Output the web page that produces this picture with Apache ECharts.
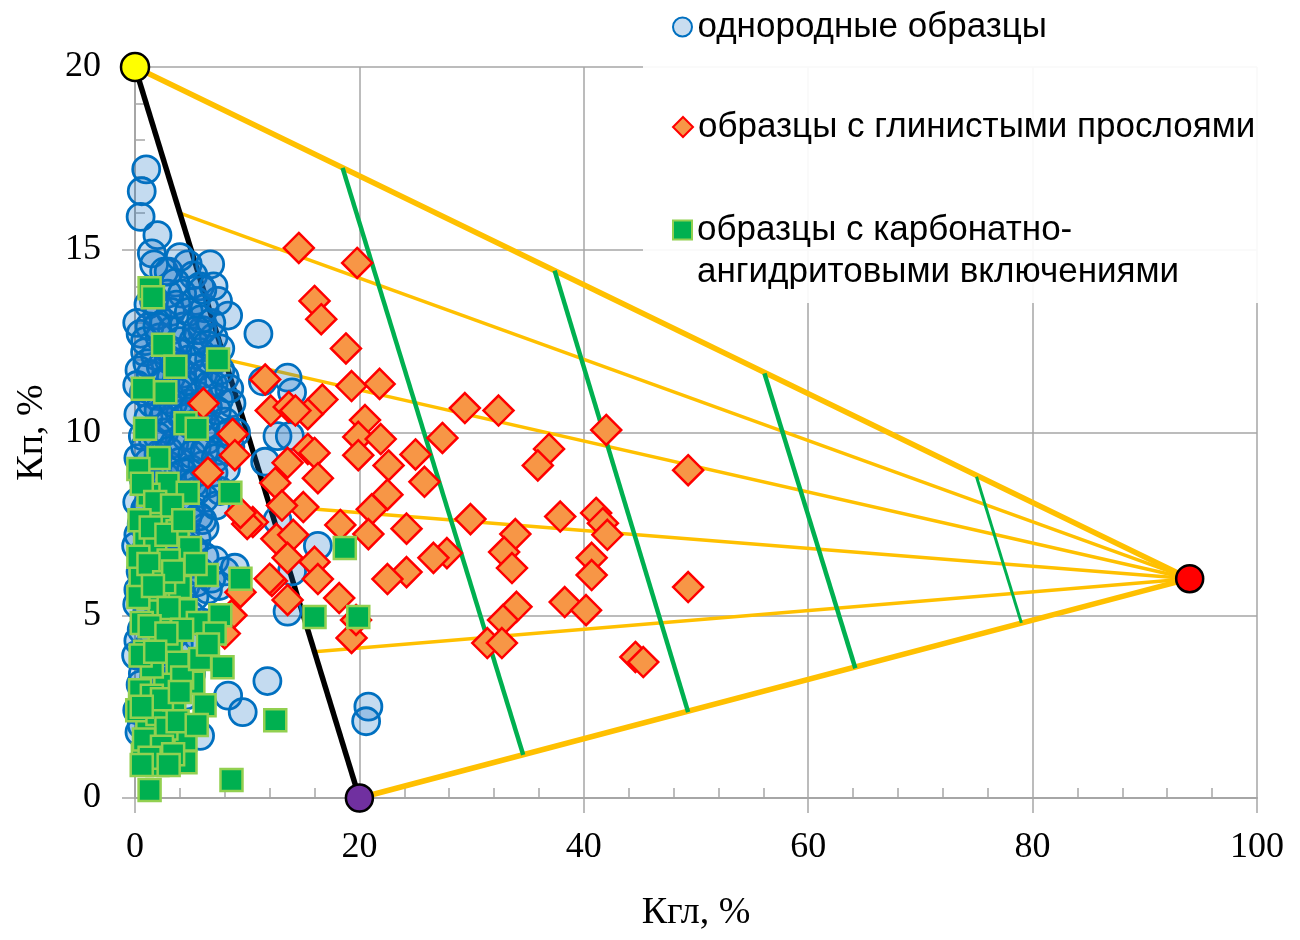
<!DOCTYPE html>
<html><head><meta charset="utf-8">
<script src="https://cdn.jsdelivr.net/npm/echarts@6/dist/echarts.min.js"></script>
<style>html,body{margin:0;padding:0;background:#fff}#chart{width:1300px;height:940px}</style>
</head><body><div id="chart"></div>
<script>
// ---------- data ----------
const xTickValues = [0, 20, 40, 60, 80, 100];
const yTickValues = [0, 5, 10, 15, 20];
const xAxisTitle = 'Кгл, %';
const yAxisTitle = 'Кп, %';
const seriesNames = ['однородные образцы', 'образцы с глинистыми прослоями', 'образцы с карбонатно-ангидритовыми включениями'];

// однородные образцы (Кгл, Кп)
const homogeneous = [
[1.0,17.2],[0.6,16.6],[0.5,15.9],[2.0,15.4],[1.5,14.9],[1.7,14.6],[2.6,14.4],[4.7,14.6],[6.7,14.6],[5.2,14.3],[5.8,14.0],[3.6,14.1],[2.9,13.8],[4.2,13.8],[5.4,13.6],[6.2,13.4],[8.3,13.2],[11.0,12.7],[1.2,13.5],[2.0,13.2],[3.2,13.3],
[0.5,12.7],[1.3,12.9],[2.2,12.6],[3.3,12.8],[4.3,12.9],[5.2,12.5],[6.0,12.8],[7.0,12.6],[0.9,12.2],[1.8,12.1],[2.8,12.3],[3.8,12.2],[4.8,12.0],[5.8,12.2],[6.6,12.0],[7.6,12.3],
[0.4,11.7],[1.4,11.6],[2.3,11.8],[3.2,11.5],[4.2,11.6],[5.1,11.4],[6.1,11.6],[7.0,11.3],[8.0,11.5],[11.4,11.4],[13.6,11.5],[14.0,11.1],[0.8,11.1],[1.9,11.0],[2.9,10.9],[3.9,11.1],[4.8,10.8],[5.7,11.0],[6.5,10.7],[7.5,10.9],[8.6,10.8],
[0.3,10.5],[1.2,10.4],[2.1,10.6],[3.1,10.3],[4.0,10.5],[5.0,10.2],[6.0,10.4],[7.0,10.1],[8.0,10.3],[9.0,10.0],[0.7,9.9],[1.6,9.8],[2.6,10.0],[3.5,9.7],[4.5,9.9],[5.5,9.6],[6.5,9.8],[7.5,9.5],[8.5,9.6],[12.7,9.9],[13.8,9.9],[11.6,9.2],
[0.3,9.3],[1.2,9.2],[2.1,9.4],[3.0,9.1],[4.0,9.2],[5.0,9.0],[6.0,9.1],[7.0,8.9],[0.8,8.7],[1.7,8.6],[2.7,8.8],[3.6,8.5],[4.6,8.6],[5.5,8.4],[6.5,8.6],[7.6,8.4],
[0.2,8.1],[1.1,8.0],[2.0,7.9],[3.1,8.1],[4.0,7.8],[5.0,7.9],[6.0,7.6],[0.6,7.5],[1.5,7.3],[2.5,7.5],[3.5,7.2],[4.5,7.3],[5.5,7.1],[6.2,7.4],[12.7,7.6],[16.3,6.9],[14.0,6.2],[13.6,5.1],
[0.1,6.9],[1.0,6.8],[2.0,6.6],[3.0,6.7],[4.0,6.5],[5.0,6.4],[6.2,6.6],[7.1,6.5],[8.0,6.2],[8.9,6.3],[0.5,6.2],[1.5,6.0],[2.5,5.9],[3.5,6.0],[4.5,5.8],[5.5,5.9],[6.5,5.7],[7.5,5.8],
[0.2,5.3],[1.1,5.2],[2.1,5.0],[3.0,5.1],[4.0,4.9],[5.0,5.0],[6.0,4.8],[0.6,4.6],[1.6,4.5],[2.6,4.4],[3.6,4.5],[4.6,4.3],[5.6,4.4],
[0.1,3.9],[1.0,3.8],[2.0,3.6],[3.0,3.7],[4.0,3.5],[5.0,3.4],[0.5,3.1],[1.5,3.0],[2.5,2.9],[3.5,3.0],[4.5,2.8],[11.8,3.2],[8.3,2.8],[9.6,2.35],[0.2,2.4],[1.2,2.3],[2.2,2.2],[3.2,2.4],[5.8,1.7],[0.4,1.8],[1.4,1.6],[3.0,1.5],[20.8,2.5],[20.6,2.1],
[0.2,13.0],[1.7,13.6],[2.6,13.0],[3.7,13.5],[4.8,13.3],[5.9,13.1],[6.8,13.0],[7.4,13.6],[0.9,12.5],[2.0,12.9],[3.0,12.0],[4.0,12.5],[5.5,12.8],[6.4,12.4],[7.2,12.0],[1.1,11.9],[2.6,11.4],[3.6,11.9],[4.5,11.3],[5.6,11.8],[6.6,11.3],[7.6,11.7],[8.4,11.2],[0.2,11.3],
[1.5,10.8],[2.5,10.4],[3.4,10.8],[4.4,10.4],[5.3,10.7],[6.3,10.2],[7.3,10.6],[8.4,10.0],[0.9,9.6],[2.0,9.9],[3.0,9.5],[4.1,9.6],[5.1,9.4],[6.2,9.5],[7.2,9.3],[8.1,9.0],[0.6,8.9],[1.5,9.0],[2.4,8.5],[3.3,8.8],[4.3,8.9],[5.2,8.6],[6.2,8.2],[7.2,8.0],
[0.9,7.9],[1.8,7.7],[2.8,7.8],[3.8,7.6],[4.7,7.7],[5.7,7.7],[0.3,7.2],[1.2,7.1],[2.2,7.0],[3.2,6.9],[4.2,7.0],[5.2,6.8],[0.8,6.5],[1.8,6.3],[2.8,6.3],[3.8,6.2],[4.8,6.1],[5.8,6.2],[6.8,6.0],[0.3,5.7],[1.3,5.6],[2.3,5.5],[3.3,5.4],[4.3,5.4],[5.3,5.5],
[0.9,4.9],[1.9,4.8],[2.9,4.7],[3.9,4.2],[0.3,4.3],[1.3,4.2],[2.3,4.0],[0.7,3.4],[1.7,3.3],[2.7,3.3],[3.7,3.3],[0.9,2.6],[1.9,2.6],[2.7,2.5],[0.6,2.0],[1.9,1.9],[6.0,13.9],[7.0,14.0],[3.0,14.4],[4.0,14.8]
];

// образцы с глинистыми прослоями
const clayLayers = [
[14.6,15.05],[19.8,14.64],[16.0,13.6],[16.6,13.1],[18.8,12.3],[11.6,11.45],[19.3,11.27],[21.8,11.33],[12.1,10.6],[13.7,10.7],[16.7,10.9],[15.4,10.5],[14.3,10.6],[29.4,10.67],[32.4,10.6],[20.5,10.34],[19.9,9.88],[21.9,9.82],[15.4,9.55],[16.0,9.44],[19.9,9.38],[27.4,9.85],[42.0,10.07],[36.9,9.55],[35.9,9.1],[49.3,8.97],[13.6,9.17],[22.6,9.1],[25.0,9.4],[16.3,8.75],[12.5,8.62],[25.8,8.65],[22.5,8.3],[21.1,7.9],[15.0,7.96],[13.1,8.0],[10.5,7.55],[29.9,7.63],[37.9,7.7],[41.1,7.8],[41.7,7.52],[42.1,7.2],[33.9,7.22],[24.2,7.37],[20.8,7.22],[18.3,7.47],[12.6,7.09],[14.1,7.2],[32.9,6.73],[33.6,6.29],[40.7,6.57],[40.7,6.1],[27.8,6.7],[26.6,6.57],[24.2,6.18],[22.5,5.99],[13.6,6.57],[16.0,6.46],[16.3,5.99],[12.2,5.94],[18.2,5.47],[13.6,5.42],[38.3,5.36],[40.2,5.14],[49.3,5.77],[34.0,5.23],[32.8,4.87],[31.4,4.24],[32.7,4.24],[19.3,4.38],[19.7,4.87],[44.6,3.86],[45.3,3.72],[6.1,10.8],[8.7,9.96],[8.9,9.38],[6.5,8.9],[10.0,7.5],[9.4,7.8],[12.0,6.0],[9.4,5.63],[8.6,5.0],[8.0,4.5]
];

// образцы с карбонатно-ангидритовыми включениями
const carbonate = [
[1.3,13.95],[1.6,13.7],[2.5,12.4],[3.6,11.8],[7.4,12.0],[0.7,11.2],[2.7,11.1],[0.9,10.1],[4.5,10.25],[5.5,10.1],[2.1,9.3],[2.9,8.6],[4.7,8.35],[8.5,8.35],[1.2,8.3],[2.2,7.7],[3.8,7.3],[0.9,7.06],[4.9,6.84],[2.0,6.24],[6.4,6.1],[9.4,6.0],[18.7,6.84],[16.0,4.95],[19.9,4.95],[3.7,5.6],[4.0,5.77],[1.2,5.47],[2.2,5.1],[4.5,5.14],[5.6,4.79],[7.6,5.0],[7.1,4.5],[0.6,4.79],[2.2,4.38],[5.1,3.72],[7.8,3.58],[0.9,4.0],[0.45,2.95],[2.7,3.1],[5.2,3.15],[6.2,2.54],[1.1,1.86],[4.5,1.6],[0.7,1.18],[2.0,0.9],[4.5,0.98],[1.3,0.22],[8.6,0.49],[12.5,2.13],[0.2,2.4],[3.4,2.13],[2.0,2.3],[1.5,3.6],[3.2,4.0],[0.5,6.0],[1.8,7.0],[3.0,6.5],
[0.3,9.0],[0.6,8.6],[1.8,8.1],[3.3,8.0],[0.4,7.6],[1.4,7.4],[2.8,7.2],[4.3,7.6],[0.3,6.6],[1.2,6.4],[2.6,5.9],[3.4,6.2],[5.4,6.4],[0.3,5.5],[1.6,5.8],[3.0,5.2],[4.2,4.6],[1.3,4.7],[2.8,4.5],[0.5,3.9],[1.8,4.0],[3.8,3.7],[4.2,3.3],[1.5,2.8],[3.5,2.7],[2.4,2.7],[0.6,2.5],[2.8,1.9],[3.8,2.1],[0.8,1.6],[2.4,1.4],[3.4,1.2],[1.3,1.1],[0.6,0.9],[3.0,0.9],[5.5,2.0],[4.0,2.9],[5.8,3.8],[6.5,4.2]
];

// reference construction
const pointSand = [0, 20];     // yellow
const pointSilt = [20, 0];     // purple
const pointClay = [94, 6];     // red
const fanStarts = [[0,20],[4,16],[8,12],[12,8],[16,4],[20,0]];
const isoLines = [
  [[18.5,17.24],[34.6,1.18]],
  [[37.4,14.43],[49.3,2.35]],
  [[56.1,11.62],[64.2,3.55]],
  [[75.0,8.79],[79.0,4.79]]
];

// ---------- chart ----------
const chart = echarts.init(document.getElementById('chart'), null, {renderer:'canvas'});
const gray = '#a6a6a6';
const serif = 'Liberation Serif';
const sans = 'Liberation Sans';

const series = [];
fanStarts.forEach((p, i) => {
  const thick = (i === 0 || i === fanStarts.length - 1);
  series.push({type:'line', data:[p, pointClay], symbol:'none', silent:true, z:2,
    lineStyle:{color:'#FFC000', width: thick ? 5.5 : 3.5}});
});
series.push({type:'line', data:[pointSand, pointSilt], symbol:'none', silent:true, z:2,
  lineStyle:{color:'#000000', width:5.5}});
isoLines.forEach((l, i) => {
  series.push({type:'line', data:l, symbol:'none', silent:true, z:2,
    lineStyle:{color:'#00B050', width: i === isoLines.length - 1 ? 3 : 4.5}});
});
series.push({name:seriesNames[0], type:'scatter', data:homogeneous, symbol:'circle', symbolSize:27, z:3,
  itemStyle:{color:'rgba(20,110,195,0.25)', borderColor:'#0070C0', borderWidth:2.8, opacity:1}});
series.push({name:seriesNames[1], type:'scatter', data:clayLayers, symbol:'diamond', symbolSize:30, z:3,
  itemStyle:{color:'#F79646', borderColor:'#FF0000', borderWidth:2.5, opacity:1}});
series.push({name:seriesNames[2], type:'scatter', data:carbonate, symbol:'rect', symbolSize:22, z:3,
  itemStyle:{color:'#00B050', borderColor:'#92D050', borderWidth:2.5, opacity:1}});
series.push({type:'scatter', clip:false, z:4, symbol:'circle', silent:true,
  data:[
    {value:pointSand, symbolSize:28, itemStyle:{color:'#FFFF00'}},
    {value:pointSilt, symbolSize:27, itemStyle:{color:'#7030A0'}},
    {value:pointClay, symbolSize:27, itemStyle:{color:'#FF0000'}}
  ],
  itemStyle:{borderColor:'#000', borderWidth:2.5, opacity:1}});

const legendText = {fontFamily:sans, fontSize:35, lineHeight:42, color:'#000'};
const option = {
  animation:false,
  backgroundColor:'#fff',
  grid:{left:135, right:43, top:67, bottom:142, containLabel:false},
  graphic:[{type:'rect', left:643, top:0, z:1, silent:true,
    shape:{width:657, height:303}, style:{fill:'rgba(255,255,255,0.92)'}}],
  legend:[
    {data:[seriesNames[0]], left:672, top:27-21, padding:0, itemWidth:20, itemHeight:19, icon:'circle', textStyle:legendText, z:5,
      itemStyle:{color:'#C9DDF0'}},
    {data:[seriesNames[1]], left:672, top:127-21, padding:0, itemWidth:20, itemHeight:20, icon:'diamond', textStyle:legendText, z:5},
    {data:[seriesNames[2]], left:672, top:230-63, padding:0, itemWidth:19, itemHeight:19, icon:'rect',
      formatter: n => { const k = n.indexOf('-') + 1; return '{p| }\n{t|' + n.slice(0, k) + '}\n{t|' + n.slice(k) + '}'; },
      textStyle:Object.assign({}, legendText, {rich:{
        p:{fontFamily:sans, fontSize:35, lineHeight:42},
        t:{fontFamily:sans, fontSize:35, lineHeight:42, color:'#000'}}}), z:5}
  ],
  xAxis:[
    {type:'value', min:0, max:100, interval:20, position:'bottom',
      axisLine:{show:true, onZero:false, lineStyle:{color:gray, width:2}},
      axisTick:{show:true, inside:false, length:15, lineStyle:{color:gray, width:1.5}},
      splitLine:{show:true, lineStyle:{color:gray, width:1.5}},
      axisLabel:{fontFamily:serif, fontSize:36, color:'#000', margin:32,
        formatter: v => xTickValues.includes(v) ? String(v) : ''},
      name:xAxisTitle, nameLocation:'middle', nameGap:96,
      nameTextStyle:{fontFamily:serif, fontSize:38, color:'#000'}},
    {type:'value', min:0, max:100, interval:20, position:'bottom',
      axisLine:{show:false}, axisTick:{show:false, inside:true},
      minorTick:{show:true, splitNumber:5, length:10, lineStyle:{color:gray, width:1.5}},
      axisLabel:{show:false}, splitLine:{show:false}}
  ],
  yAxis:[
    {type:'value', min:0, max:20, interval:5, position:'left',
      axisLine:{show:true, onZero:false, lineStyle:{color:gray, width:2}},
      axisTick:{show:true, inside:false, length:13, lineStyle:{color:gray, width:1.5}},
      splitLine:{show:true, lineStyle:{color:gray, width:1.5}},
      axisLabel:{fontFamily:serif, fontSize:36, color:'#000', margin:34,
        formatter: v => yTickValues.includes(v) ? String(v) : ''},
      name:yAxisTitle, nameLocation:'middle', nameGap:84, nameRotate:90,
      nameTextStyle:{fontFamily:serif, fontSize:38, color:'#000'}},
    {type:'value', min:0, max:20, interval:5, position:'left',
      axisLine:{show:false}, axisTick:{show:false, inside:true},
      minorTick:{show:true, splitNumber:5, length:10, lineStyle:{color:gray, width:1.5}},
      axisLabel:{show:false}, splitLine:{show:false}}
  ],
  series: series
};
chart.setOption(option);
</script></body></html>
